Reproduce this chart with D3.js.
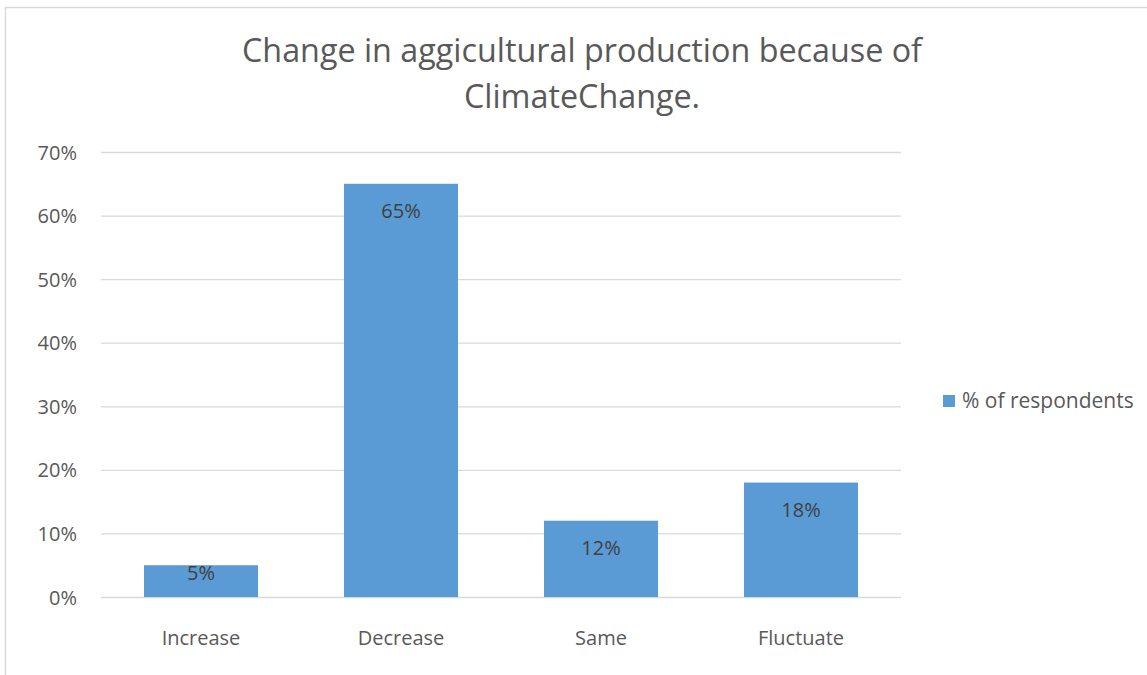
<!DOCTYPE html>
<html>
<head>
<meta charset="utf-8">
<script src="https://cdn.jsdelivr.net/npm/d3@7"></script>
<style>
  html, body { margin: 0; padding: 0; background: #fff; }
  svg { display: block; }
  text { font-family: "Open Sans", sans-serif; }
</style>
</head>
<body>
<svg id="chart" width="1147" height="675"></svg>
<script>
// Survey answers: how agricultural production changed because of climate change
const categories = ["Increase", "Decrease", "Same", "Fluctuate"];
const respondents = [0.05, 0.65, 0.12, 0.18];
const yTicks = [0, 0.1, 0.2, 0.3, 0.4, 0.5, 0.6, 0.7];
const seriesName = "% of respondents";
const titleLines = ["Change in aggicultural production because of", "ClimateChange."];

const svg = d3.select("#chart");
const W = 1147, H = 675;
const plot = { left: 101, right: 901, top: 152, bottom: 597 };

// outer chart frame
svg.append("rect")
  .attr("x", 5.5).attr("y", 7.5)
  .attr("width", W + 10).attr("height", H + 10)
  .attr("fill", "#fff").attr("stroke", "#d9d9d9").attr("stroke-width", 1.5);

const x = d3.scaleBand().domain(categories)
  .range([plot.left, plot.right]).paddingInner(0.43).paddingOuter(0.215);
const y = d3.scaleLinear().domain([0, 0.7]).range([plot.bottom, plot.top]);

// title
svg.append("g").selectAll("text").data(titleLines).join("text")
  .attr("x", 582).attr("y", (d, i) => 62 + i * 46)
  .attr("text-anchor", "middle")
  .attr("fill", "#595959").attr("font-size", 32.3)
  .text(d => d);

// horizontal gridlines + y axis labels
const yAxis = d3.axisLeft(y).tickValues(yTicks)
  .tickFormat(d3.format(".0%"))
  .tickSize(-(plot.right - plot.left)).tickPadding(24);
const gy = svg.append("g").attr("transform", `translate(${plot.left},0)`).call(yAxis);
gy.select(".domain").remove();
gy.selectAll(".tick line").attr("stroke", "#d9d9d9").attr("stroke-width", 1.3);
gy.selectAll(".tick text").attr("fill", "#595959").attr("font-size", 20)
  .attr("font-family", "\"Open Sans\", sans-serif")
  .attr("dy", "0.35em");

// bars
svg.append("g").selectAll("rect").data(categories).join("rect")
  .attr("x", d => x(d)).attr("width", x.bandwidth())
  .attr("y", (d, i) => y(respondents[i]))
  .attr("height", (d, i) => y(0) - y(respondents[i]))
  .attr("fill", "#5b9bd5");

// value labels inside the bar tops, kept clear of the baseline on short bars
svg.append("g").selectAll("text").data(categories).join("text")
  .attr("x", d => x(d) + x.bandwidth() / 2)
  .attr("y", (d, i) => Math.min(y(respondents[i]) + 34, y(0) - 17))
  .attr("text-anchor", "middle")
  .attr("fill", "#404040").attr("font-size", 20)
  .text((d, i) => d3.format(".0%")(respondents[i]));

// category axis
const xAxis = d3.axisBottom(x).tickSize(0).tickPadding(34);
const gx = svg.append("g").attr("transform", `translate(0,${plot.bottom})`).call(xAxis);
gx.select(".domain").remove();
gx.selectAll(".tick text").attr("fill", "#595959").attr("font-size", 20)
  .attr("font-family", "\"Open Sans\", sans-serif");

// legend
const lg = svg.append("g").attr("transform", "translate(943,395)");
lg.append("rect").attr("width", 12).attr("height", 12).attr("fill", "#5b9bd5");
lg.append("text").attr("x", 19).attr("y", 13)
  .attr("fill", "#595959").attr("font-size", 21).text(seriesName);
</script>
</body>
</html>
